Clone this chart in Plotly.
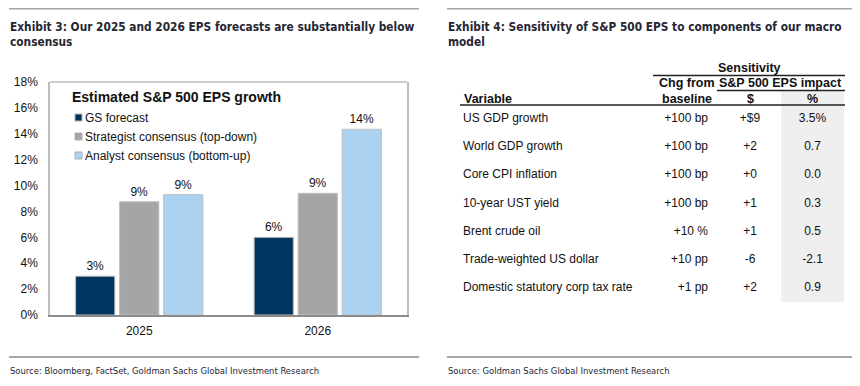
import plotly.graph_objects as go

# page offset compensation (browser body margin)
OX, OY = 8, 8
W, H = 860 - OX, 386 - OY

# ---------------- data: Exhibit 3 ----------------
years = ["2025", "2026"]
gs_forecast = [3.0, 6.0]
strategist_consensus = [8.75, 9.4]
analyst_consensus = [9.3, 14.35]
series_names = ["GS forecast", "Strategist consensus (top-down)", "Analyst consensus (bottom-up)"]
series_colors = ["#00355f", "#a5a5a5", "#abd2f0"]
y_ticks = [0, 2, 4, 6, 8, 10, 12, 14, 16, 18]

# ---------------- data: Exhibit 4 ----------------
variables = ["US GDP growth", "World GDP growth", "Core CPI inflation", "10-year UST yield",
             "Brent crude oil", "Trade-weighted US dollar", "Domestic statutory corp tax rate"]
chg_from_baseline = ["+100 bp", "+100 bp", "+100 bp", "+100 bp", "+10 %", "+10 pp", "+1 pp"]
eps_impact_dollar = [9, 2, 0, 1, 1, -6, 2]
eps_impact_pct = [3.5, 0.7, 0.0, 0.3, 0.5, -2.1, 0.9]

BODY = "Liberation Sans, Arial, sans-serif"
NARROW = "Liberation Sans Narrow, Arial Narrow, DejaVu Sans Condensed, sans-serif"
TXT = "#111111"
TITLE_C = "#262633"


def px(x):
    return (x - OX) / W


def py(y):
    return 1 - (y - OY) / H


fig = go.Figure()

# ---- bars ----
for name, vals, col in zip(series_names, [gs_forecast, strategist_consensus, analyst_consensus], series_colors):
    fig.add_trace(go.Bar(
        x=years, y=vals, name=name,
        marker=dict(color=col, line=dict(color="#bfbfbf", width=1)),
        text=[f"{round(v)}%" for v in vals], textposition="outside",
        textfont=dict(family=BODY, size=12, color=TXT), cliponaxis=False,
        xaxis="x", yaxis="y", showlegend=False, hoverinfo="x+y+name",
    ))

# ---- table text via a hidden axis pair ----
row_idx = list(range(len(variables)))
fmt_dollar = [("+$" if i == 0 else ("+" if v >= 0 else "")) + str(v) for i, v in enumerate(eps_impact_dollar)]
fmt_pct = [f"{v:.1f}%" if i == 0 else f"{v:.1f}" for i, v in enumerate(eps_impact_pct)]
col_specs = [
    (variables, 463, "middle right"),
    (chg_from_baseline, 708, "middle left"),
    (fmt_dollar, 750, "middle center"),
    (fmt_pct, 812.5, "middle center"),
]
for texts, xc, pos in col_specs:
    fig.add_trace(go.Scatter(
        x=[xc] * len(texts), y=row_idx, mode="text", text=texts, textposition=pos,
        textfont=dict(family=BODY, size=12, color=TXT), cliponaxis=False,
        xaxis="x2", yaxis="y2", showlegend=False, hoverinfo="skip",
    ))

shapes = []
annotations = []

# rules
for x0, x1 in [(9, 419), (447, 858)]:
    for yy in (8.5, 357):
        shapes.append(dict(type="line", xref="paper", yref="paper", x0=px(x0), x1=px(x1),
                           y0=py(yy), y1=py(yy), line=dict(color="#a6a6a6", width=2)))

title_font = dict(family=NARROW, size=11.8, color=TITLE_C, weight="bold")
src_font = dict(family=NARROW, size=9.4, color=TITLE_C)
annotations.append(dict(text="Exhibit 3: Our 2025 and 2026 EPS forecasts are substantially below<br>consensus",
                        x=px(8), y=py(35), xref="paper", yref="paper", xanchor="left", yanchor="middle",
                        align="left", showarrow=False, font=title_font))
annotations.append(dict(text="Exhibit 4: Sensitivity of S&P 500 EPS to components of our macro<br>model",
                        x=px(446), y=py(35), xref="paper", yref="paper", xanchor="left", yanchor="middle",
                        align="left", showarrow=False, font=title_font))
annotations.append(dict(text="Source: Bloomberg, FactSet, Goldman Sachs Global Investment Research",
                        x=px(8), y=py(370), xref="paper", yref="paper", xanchor="left", yanchor="middle",
                        showarrow=False, font=src_font))
annotations.append(dict(text="Source: Goldman Sachs Global Investment Research",
                        x=px(446), y=py(370), xref="paper", yref="paper", xanchor="left", yanchor="middle",
                        showarrow=False, font=src_font))

# plot frame top line
shapes.append(dict(type="line", xref="x domain", yref="y domain", x0=0, x1=1, y0=1, y1=1,
                   line=dict(color="#bdbdbd", width=1.5)))

# manual legend
annotations.append(dict(text="<b>Estimated S&P 500 EPS growth</b>", x=px(70), y=py(97), xref="paper", yref="paper",
                        xanchor="left", yanchor="middle", showarrow=False,
                        font=dict(family=BODY, size=14, color=TXT)))
for i, (name, col) in enumerate(zip(series_names, series_colors)):
    yc = 117.5 + 19 * i
    shapes.append(dict(type="rect", xref="paper", yref="paper", x0=px(75), x1=px(82),
                       y0=py(yc + 3.5), y1=py(yc - 3.5), fillcolor=col, line=dict(color="#b0b0b0", width=1)))
    annotations.append(dict(text=name, x=px(82.5), y=py(yc), xref="paper", yref="paper",
                            xanchor="left", yanchor="middle", showarrow=False,
                            font=dict(family=BODY, size=12, color=TXT)))

# table: shaded % column
shapes.append(dict(type="rect", xref="paper", yref="paper", x0=px(781), x1=px(844), y0=py(302), y1=py(91),
                   fillcolor="#efefef", line=dict(width=0), layer="below"))
# table header lines
for x0, x1, yy in [(653, 845, 75.5), (717, 845, 90.5), (460, 845, 105)]:
    shapes.append(dict(type="line", xref="paper", yref="paper", x0=px(x0), x1=px(x1), y0=py(yy), y1=py(yy),
                       line=dict(color="#222222", width=1.5)))
hdr_font = dict(family=BODY, size=12.5, color=TXT, weight="bold")
for text, xc, yc, anc in [("Sensitivity", 749, 68.5, "center"), ("Chg from", 687, 83, "center"),
                          ("baseline", 687, 98.5, "center"), ("S&P 500 EPS impact", 780, 83, "center"),
                          ("$", 750, 98.5, "center"), ("%", 812, 98.5, "center"),
                          ("Variable", 462, 98.5, "left")]:
    annotations.append(dict(text=text, x=px(xc), y=py(yc), xref="paper", yref="paper", xanchor=anc,
                            yanchor="middle", showarrow=False, font=hdr_font))

fig.update_layout(
    width=W, height=H, margin=dict(l=0, r=0, t=0, b=0, autoexpand=False),
    paper_bgcolor="white", plot_bgcolor="rgba(0,0,0,0)",
    barmode="group", bargap=0.26, bargroupgap=0.11,
    font=dict(family=BODY, size=12, color=TXT),
    xaxis=dict(domain=[px(50), px(407)], showline=True, linecolor="#8c8c8c", linewidth=1.5,
               ticks="", showgrid=False, tickfont=dict(size=12, color=TXT), ticklabelstandoff=4,
               automargin=False),
    yaxis=dict(domain=[py(315), py(82)], range=[0, 18], tickvals=y_ticks,
               ticktext=[f"{v}%" for v in y_ticks], showgrid=False, zeroline=False,
               showline=True, mirror=True, linecolor="#bdbdbd", linewidth=1.5, ticks="",
               tickfont=dict(size=12, color=TXT), ticklabelstandoff=8, automargin=False),
    xaxis2=dict(domain=[0, 1], range=[OX, OX + W], visible=False, fixedrange=True, automargin=False),
    yaxis2=dict(domain=[py(302), py(105)], range=[6.51, -0.51], visible=False, fixedrange=True,
                automargin=False),
    shapes=shapes, annotations=annotations,
)

fig.write_html("out.html")
